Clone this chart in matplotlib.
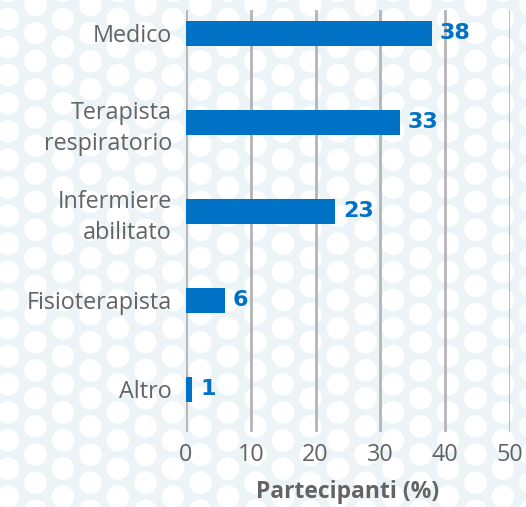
import matplotlib
matplotlib.use("Agg")
import matplotlib.pyplot as plt
from matplotlib.patches import Circle
import numpy as np

categories = ["Medico", "Terapista\nrespiratorio", "Infermiere\nabilitato", "Fisioterapista", "Altro"]
values = [38, 33, 23, 6, 1]
xticks = [0, 10, 20, 30, 40, 50]
xlabel = "Partecipanti (%)"

W, H = 526, 507
dpi = 100
bg = "#edf4f8"
bar_color = "#0072c6"
text_color = "#646464"
grid_color = "#b4b4b4"

plt.rcParams['font.family'] = ['Open Sans', 'DejaVu Sans']

fig = plt.figure(figsize=(W / dpi, H / dpi), dpi=dpi)
fig.patch.set_facecolor(bg)

# decorative background pattern
bgax = fig.add_axes([0, 0, 1, 1], zorder=0)
bgax.set_xlim(0, W)
bgax.set_ylim(H, 0)
bgax.axis("off")
bgax.set_facecolor(bg)
dx, dy, r = 27.5, 28.1, 11.3
for ci, cx in enumerate(np.arange(8, W + 30, dx)):
    y0 = 19 if ci % 2 == 0 else 5
    for cy in np.arange(y0 - dy, H + 30, dy):
        bgax.add_patch(Circle((cx, cy), r, facecolor="white", edgecolor="none"))

left, right = 186 / W, 510 / W
top, bottom = 10 / H, 432 / H
ax = fig.add_axes([left, 1 - bottom, right - left, bottom - top], zorder=1)
ax.patch.set_alpha(0)

y = np.arange(len(categories))
ax.barh(y, values, height=0.28, color=bar_color, zorder=3)
for yi, v in zip(y, values):
    ax.text(v + 1.2, yi, str(v), va="center", ha="left", fontsize=16,
            fontweight="bold", color=bar_color, zorder=4,
            family=["DejaVu Sans"])

ax.set_xlim(0, 50)
ax.set_ylim(4.48, -0.26)
ax.set_xticks(xticks)
ax.set_yticks(y)
ax.set_yticklabels(categories, fontsize=16.8, color=text_color, linespacing=1.4)
ax.set_xticklabels([str(t) for t in xticks], fontsize=16.8, color=text_color)
ax.tick_params(axis="both", length=0)
ax.tick_params(axis="y", pad=10)
ax.tick_params(axis="x", pad=8)
for s in ax.spines.values():
    s.set_visible(False)
for t in xticks:
    ax.axvline(t, color=grid_color, lw=2, zorder=2)
ax.set_xlabel(xlabel, fontsize=16.5, fontweight="bold", color=text_color, labelpad=9)

fig.savefig("out.png", dpi=dpi, facecolor=bg)
